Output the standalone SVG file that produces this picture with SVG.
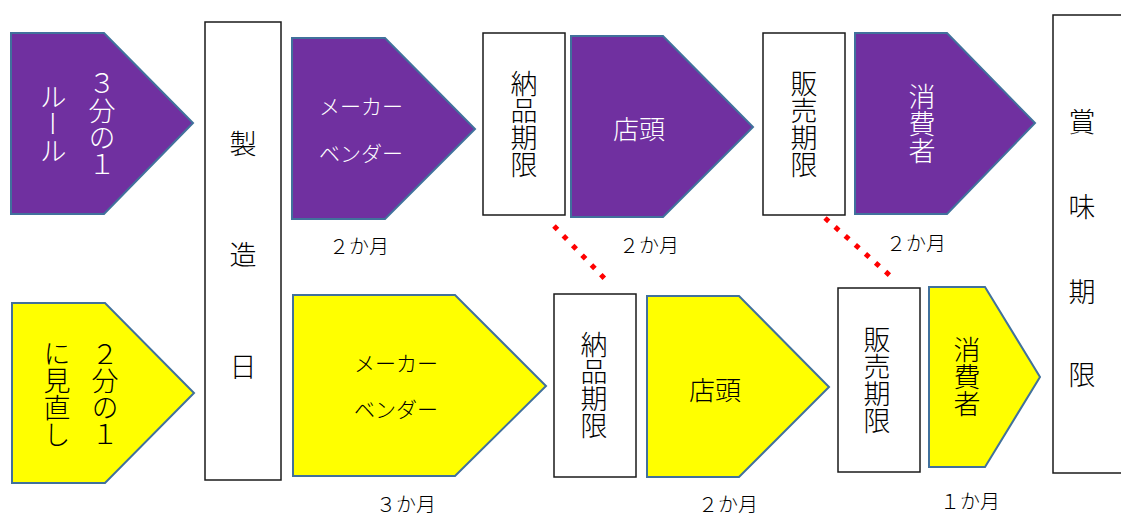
<svg xmlns="http://www.w3.org/2000/svg" width="1121" height="516" viewBox="0 0 1121 516">
<style>
text{font-family:"Noto Sans CJK JP","Noto Sans CJK SC",sans-serif;font-weight:300}
.pp{fill:#7030A0;stroke:#41719C;stroke-width:2}
.py{fill:#FFFF00;stroke:#41719C;stroke-width:2}
.box{fill:#fff;stroke:#1a1a1a;stroke-width:1.5}
.v{writing-mode:vertical-rl;text-anchor:middle;font-size:27px}
.c{text-anchor:middle;dominant-baseline:central}
.w{fill:#fff}
.k{fill:#000}
.f27{font-size:27px}
.f26{font-size:26px}
.f21{font-size:21px}
.f20{font-size:20px}
.dot{fill:none;stroke:#FF0000;stroke-width:5;stroke-dasharray:5 8.5}
</style>
<rect width="1121" height="516" fill="#fff"/>

<g id="rule-3">
<path class="pp" d="M11,33 H104 L193,123 L104,214 H11 Z"/>
<text class="v w" x="102" y="124">３分の１</text>
<text class="v w" x="53" y="124">ルール</text>
</g>
<g id="rule-2">
<path class="py" d="M12,303 H105 L194,393 L105,483 H12 Z"/>
<text class="v k" x="105" y="394">２分の１</text>
<text class="v k" x="57" y="394">に見直し</text>
</g>

<g id="seizoubi">
<rect class="box" x="205" y="22" width="76" height="458"/>
<text class="c k f27" x="243" y="142">製</text>
<text class="c k f27" x="243" y="253">造</text>
<text class="c k f27" x="243" y="365">日</text>
</g>

<g id="maker-top">
<path class="pp" d="M292,38 H385 L475,129 L385,219 H292 Z"/>
<text class="c w f21" x="361" y="105">メーカー</text>
<text class="c w f21" x="361" y="152">ベンダー</text>
</g>
<g id="nouhin-top">
<rect class="box" x="483" y="33" width="82" height="182"/>
<text class="v k" x="524" y="124">納品期限</text>
</g>
<g id="tentou-top">
<path class="pp" d="M571,36 H663 L753,127 L663,217 H571 Z"/>
<text class="c w f26" x="639" y="127">店頭</text>
</g>
<g id="hanbai-top">
<rect class="box" x="763" y="33" width="82" height="182"/>
<text class="v k" x="804" y="124">販売期限</text>
</g>
<g id="shouhi-top">
<path class="pp" d="M855,33 H947 L1035,123 L947,214 H855 Z"/>
<text class="v w" x="922" y="124">消費者</text>
</g>

<g id="maker-bottom">
<path class="py" d="M293,295 H455 L546,386 L455,476 H293 Z"/>
<text class="c k f21" x="396" y="362">メーカー</text>
<text class="c k f21" x="396" y="408">ベンダー</text>
</g>
<g id="nouhin-bottom">
<rect class="box" x="554" y="294" width="82" height="183"/>
<text class="v k" x="594" y="385">納品期限</text>
</g>
<g id="tentou-bottom">
<path class="py" d="M647,296 H739 L829,387 L739,477 H647 Z"/>
<text class="c k f26" x="715" y="388">店頭</text>
</g>
<g id="hanbai-bottom">
<rect class="box" x="838" y="288" width="82" height="184"/>
<text class="v k" x="877" y="380">販売期限</text>
</g>
<g id="shouhi-bottom">
<path class="py" d="M929,287 H985 L1040,377 L985,467 H929 Z"/>
<text class="v k" x="967" y="377">消費者</text>
</g>

<g id="shoumi">
<rect class="box" x="1053" y="15" width="80" height="458"/>
<text class="c k f27" x="1082" y="120">賞</text>
<text class="c k f27" x="1082" y="205">味</text>
<text class="c k f27" x="1082" y="290">期</text>
<text class="c k f27" x="1082" y="373">限</text>
</g>

<g id="labels">
<text class="c k f20" x="359" y="245">２か月</text>
<text class="c k f20" x="649" y="244">２か月</text>
<text class="c k f20" x="916" y="242">２か月</text>
<text class="c k f20" x="406" y="503">３か月</text>
<text class="c k f20" x="728" y="503">２か月</text>
<text class="c k f20" x="970" y="500">１か月</text>
</g>

<g id="connectors">
<line class="dot" x1="554" y1="226" x2="606" y2="280"/>
<line class="dot" x1="825" y1="218" x2="895" y2="280"/>
</g>
</svg>
